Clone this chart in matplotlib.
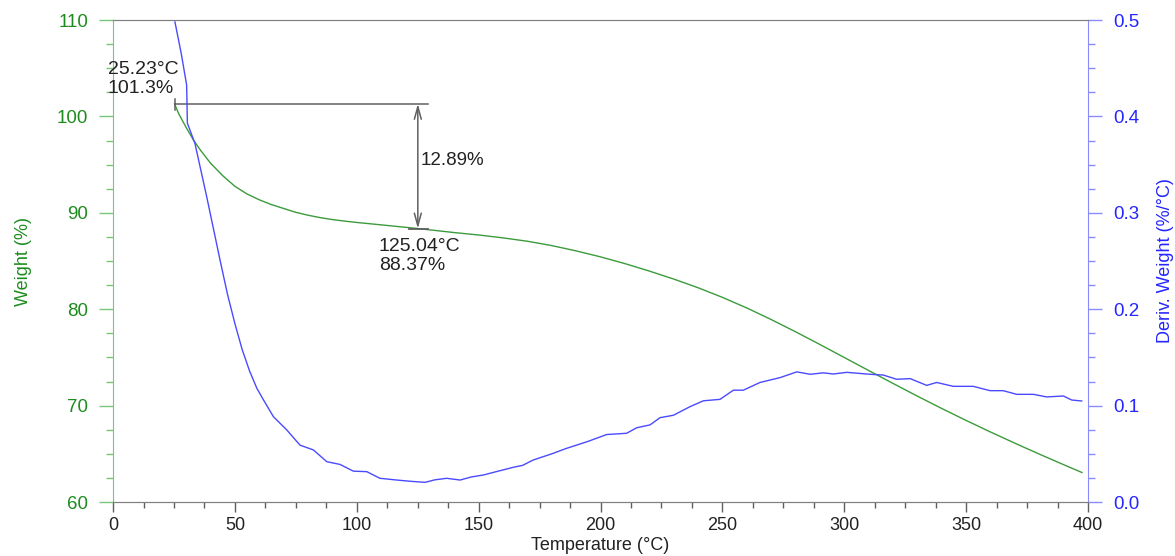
import numpy as np
import matplotlib
matplotlib.use('Agg')
import matplotlib.pyplot as plt
from matplotlib.ticker import MultipleLocator, FormatStrFormatter

plt.rcParams['font.family'] = ['Liberation Sans', 'DejaVu Sans']

# weight curve (%)
temp_w = [25.23, 27, 30, 33, 36, 40, 45, 50, 55, 60, 65, 70, 75, 80, 85, 90, 95, 100, 110, 125.04,
          140, 150, 160, 170, 180, 190, 200, 210, 220, 230, 240, 250, 260, 270, 280, 290, 300,
          310, 320, 330, 340, 350, 360, 370, 380, 390, 397.5]
weight = [101.3, 100.25, 98.85, 97.55, 96.45, 95.15, 93.85, 92.75, 91.95, 91.35, 90.85, 90.45,
          90.05, 89.75, 89.5, 89.3, 89.14, 89.0, 88.75, 88.37,
          87.95, 87.70, 87.40, 87.05, 86.60, 86.05, 85.43, 84.73, 83.96, 83.13, 82.23, 81.23,
          80.13, 78.93, 77.66, 76.34, 74.99, 73.64, 72.30, 70.98, 69.70, 68.46, 67.26, 66.10,
          64.97, 63.87, 63.06]

# derivative weight curve (%/°C)
temp_d = [25.4, 28, 30.2, 30.5, 33.6, 38.4, 43.9, 47, 50, 53, 56, 59, 61.7, 65.8, 71.3, 76.7,
          82.2, 87.7, 93.1, 98.6, 104.1, 109.5, 116.4, 122, 128, 132, 136.9, 142.4, 147, 151.9,
          158, 164.2, 168, 172.4, 180, 186.1, 195, 202.5, 210.7, 214.8, 220.3, 224.4, 229.9,
          236.7, 242.2, 249, 254.5, 258.6, 265.4, 273.6, 280.5, 286, 291.4, 295.5, 301, 310.6,
          316, 321.5, 327, 333.8, 337.9, 344.7, 352.9, 359.8, 365.2, 370.7, 377.6, 383, 389.9,
          393.3, 397.4]
deriv = [0.498, 0.465, 0.4325, 0.393, 0.372, 0.317, 0.251, 0.215, 0.185, 0.158, 0.136, 0.118,
         0.106, 0.0885, 0.0747, 0.059, 0.054, 0.0418, 0.039, 0.032, 0.0315, 0.0246, 0.0228,
         0.0215, 0.0204, 0.023, 0.0246, 0.0228, 0.026, 0.028, 0.032, 0.036, 0.038, 0.0436, 0.050,
         0.0557, 0.063, 0.070, 0.0713, 0.077, 0.080, 0.0875, 0.090, 0.0989, 0.105, 0.1065, 0.116,
         0.116, 0.124, 0.129, 0.135, 0.1325, 0.134, 0.1328, 0.1345, 0.1325, 0.1317, 0.1273, 0.128,
         0.121, 0.124, 0.12, 0.12, 0.1155, 0.1155, 0.1117, 0.1117, 0.109, 0.110, 0.1058, 0.1048]

# step annotation
t_start, w_start = 25.23, 101.3
t_end, w_end = 125.04, 88.37
step = 12.89

green = '#3c9b3c'
green_txt = '#1e8c1e'
green_ax = '#7cc47c'
blue = '#4a4aff'
blue_txt = '#2525ff'
blue_ax = '#8a8aff'
grey = '#606060'

fig = plt.figure(figsize=(11.75, 5.56), dpi=100)
ax = fig.add_axes([0.0962, 0.0971, 0.8298, 0.8669])
ax2 = ax.twinx()

ax.plot(temp_w, weight, color=green, lw=1.0)
ax2.plot(temp_d, deriv, color=blue, lw=1.0)

ax.set_xlim(0, 400)
ax.set_ylim(60, 110)
ax2.set_ylim(0, 0.5)

ax.xaxis.set_major_locator(MultipleLocator(50))
ax.xaxis.set_minor_locator(MultipleLocator(12.5))
ax.yaxis.set_major_locator(MultipleLocator(10))
ax.yaxis.set_minor_locator(MultipleLocator(2.5))
ax2.yaxis.set_major_locator(MultipleLocator(0.1))
ax2.yaxis.set_minor_locator(MultipleLocator(0.025))
ax2.yaxis.set_major_formatter(FormatStrFormatter('%.1f'))

for a in (ax, ax2):
    a.spines['top'].set_color('#808080')
    a.spines['bottom'].set_color('#808080')
ax.spines['left'].set_color(green_ax)
ax.spines['right'].set_visible(False)
ax2.spines['left'].set_visible(False)
ax2.spines['right'].set_color(blue_ax)

ax.tick_params(axis='x', which='major', length=7, width=1, color='#606060', labelsize=13,
               labelcolor='#222222', pad=4)
ax.tick_params(axis='x', which='minor', length=4, width=1, color='#606060')
ax.tick_params(axis='y', which='major', length=10, width=1, color=green_ax, labelsize=13.5,
               labelcolor=green_txt, pad=8)
ax.tick_params(axis='y', which='minor', length=5, width=1, color=green_ax)
ax2.tick_params(axis='y', which='major', length=10, width=1, color=blue_ax, labelsize=13.5,
                labelcolor=blue_txt, pad=8)
ax2.tick_params(axis='y', which='minor', length=5, width=1, color=blue_ax)

ax.set_xlabel('Temperature (°C)', fontsize=13, color='#222222', labelpad=2)
ax.set_ylabel('Weight (%)', fontsize=13, color=green_txt)
ax2.set_ylabel('Deriv. Weight (%/°C)', fontsize=13, color=blue_txt, labelpad=13)
ax.yaxis.set_label_coords(-0.083, 0.5)

# step marker: start tick, baseline, double arrow and end tick
ax.plot([t_start, t_start], [w_start + 0.5, w_start - 0.6], color=grey, lw=1.1)
ax.plot([t_start, t_end + 4.3], [w_start, w_start], color=grey, lw=1.1)
ax.plot([t_end - 3.5, t_end + 4.3], [w_end, w_end], color=grey, lw=1.3)
ax.annotate('', xy=(t_end, w_end), xytext=(t_end, w_start),
            arrowprops=dict(arrowstyle='<->,head_length=0.9,head_width=0.25', color=grey,
                            lw=1.1, shrinkA=0, shrinkB=0))

ax.text(t_end + 1.0, (w_start + w_end) / 2 + 0.55, f'{step:.2f}%', fontsize=13.5,
        color='#222222', va='center', ha='left')
ax.text(t_start - 27.5, w_start + 0.7, f'{t_start:.2f}°C\n{w_start:.1f}%', fontsize=14,
        color='#222222', va='bottom', ha='left', linespacing=1.15)
ax.text(t_end - 16.0, w_end - 0.95, f'{t_end:.2f}°C\n{w_end:.2f}%', fontsize=14,
        color='#222222', va='top', ha='left', linespacing=1.15)

fig.savefig('out.png', dpi=100)
